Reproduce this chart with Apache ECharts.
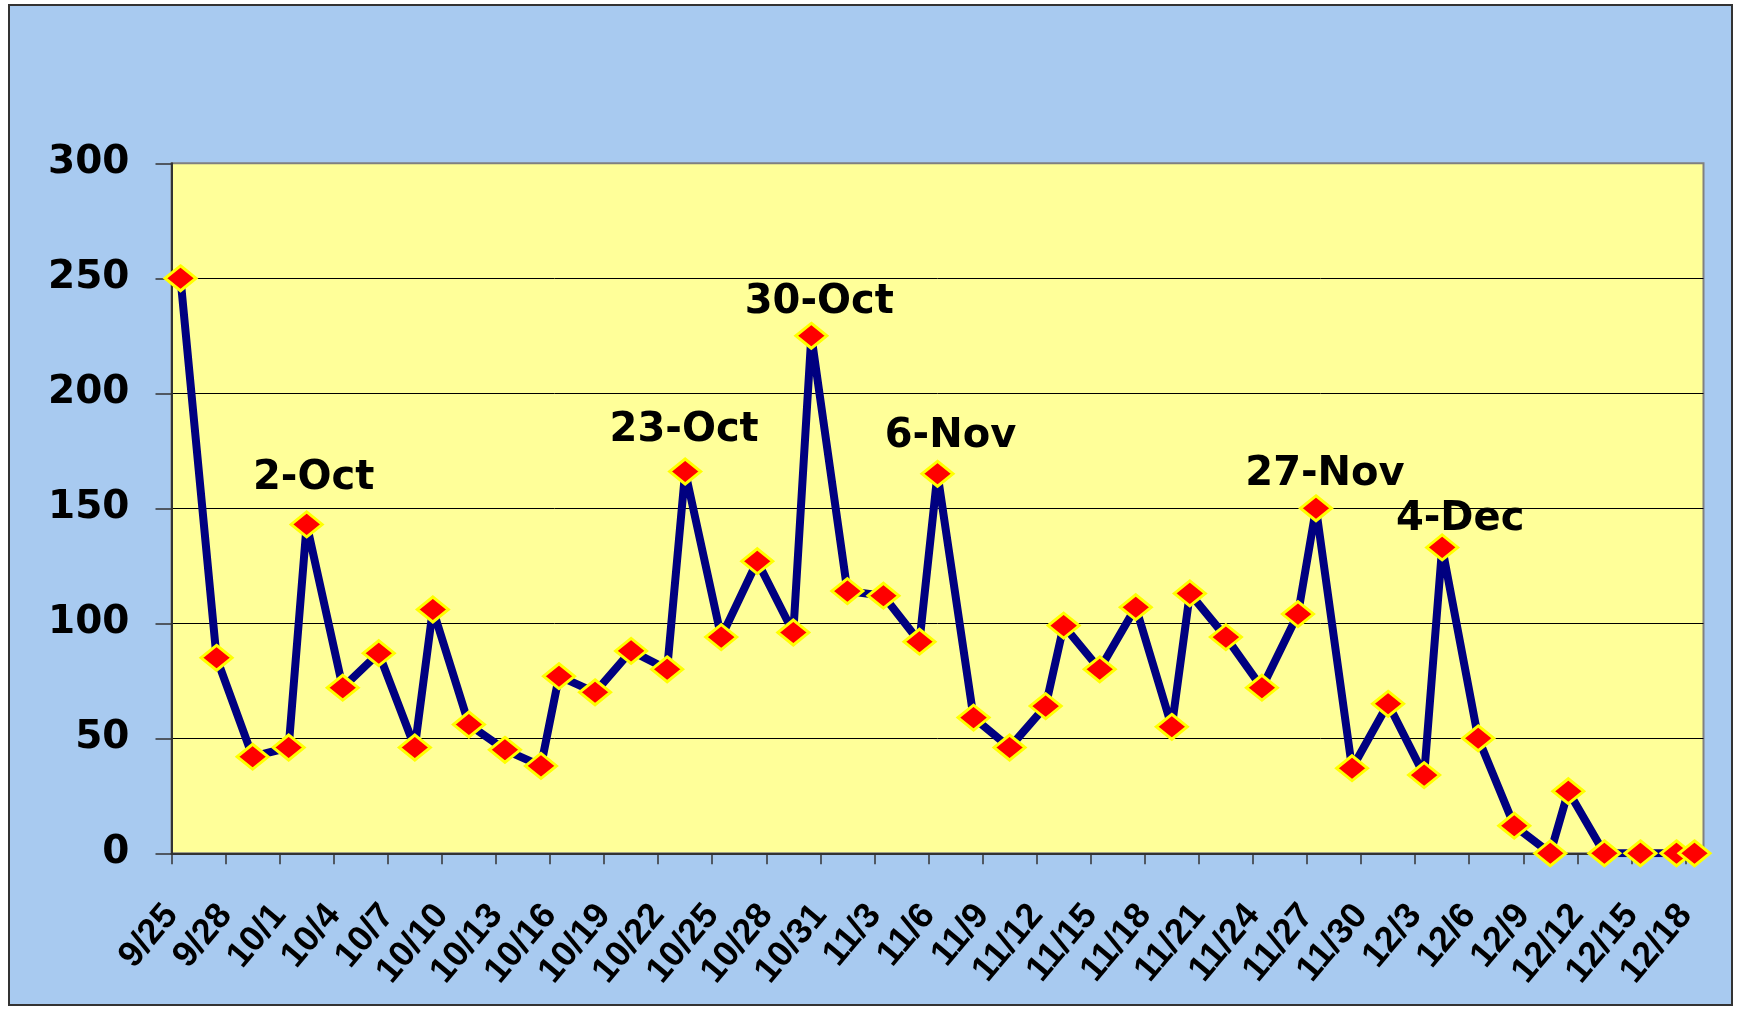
<!DOCTYPE html>
<html>
<head>
<meta charset="utf-8">
<script src="https://cdn.jsdelivr.net/npm/echarts@6/dist/echarts.min.js"></script>
<style>
  html, body { margin: 0; padding: 0; background: #fff; }
  #frame { position: absolute; left: 8px; top: 4px; border: 2px solid #333; background: #A8CAF0; }
  #chart { width: 1721px; height: 998px; }
</style>
</head>
<body>
<div id="frame"><div id="chart"></div></div>
<script>
// dates of the points (M/D) and the counts
var dates = ['9/25', '9/27', '9/29', '10/1', '10/2', '10/4', '10/6', '10/8', '10/9', '10/11',
  '10/13', '10/15', '10/16', '10/18', '10/20', '10/22', '10/23', '10/25', '10/27', '10/29',
  '10/30', '11/1', '11/3', '11/5', '11/6', '11/8', '11/10', '11/12', '11/13', '11/15',
  '11/17', '11/19', '11/20', '11/22', '11/24', '11/26', '11/27', '11/29', '12/1', '12/3',
  '12/4', '12/6', '12/8', '12/10', '12/11', '12/13', '12/15', '12/17', '12/18'];
var values = [250, 85, 42, 46, 143, 72, 87, 46, 106, 56,
  45, 38, 77, 70, 88, 80, 166, 94, 127, 96,
  225, 114, 112, 92, 165, 59, 46, 64, 99, 80,
  107, 55, 113, 94, 72, 104, 150, 37, 65, 34,
  133, 50, 12, 0, 27, 0, 0, 0, 0];
var tickLabels = ['9/25', '9/28', '10/1', '10/4', '10/7', '10/10', '10/13', '10/16', '10/19', '10/22',
  '10/25', '10/28', '10/31', '11/3', '11/6', '11/9', '11/12', '11/15', '11/18', '11/21',
  '11/24', '11/27', '11/30', '12/3', '12/6', '12/9', '12/12', '12/15', '12/18'];
var yTicks = [0, 50, 100, 150, 200, 250, 300];
// the peaks that carry a text label
var peakDates = ['10/2', '10/23', '10/30', '11/6', '11/27', '12/4'];
var peakTexts = ['2-Oct', '23-Oct', '30-Oct', '6-Nov', '27-Nov', '4-Dec'];
// where each label sits against its point (px)
var peakOffsets = [[7, -46], [-1, -41], [8, -33], [13, -37], [9, -34], [18, -28]];

var FONT = '"DejaVu Sans", "Liberation Sans", Arial, sans-serif';
var dayMs = 86400000;
var start = Date.UTC(2000, 8, 25);
function dayIndex(md) {
  var p = md.split('/');
  return Math.round((Date.UTC(2000, +p[0] - 1, +p[1]) - start) / dayMs);
}
// points sit in the middle of their day slot, ticks on the day boundaries
var seriesData = dates.map(function (d, i) {
  var item = { value: [dayIndex(d) + 0.5, values[i]] };
  var k = peakDates.indexOf(d);
  if (k >= 0) {
    item.label = {
      show: true, position: 'inside', formatter: peakTexts[k],
      offset: peakOffsets[k], color: '#000', fontSize: 40, fontWeight: 'bold', fontFamily: FONT
    };
  }
  return item;
});
var tickValues = tickLabels.map(function (t) { return dayIndex(t); });

var myChart = echarts.init(document.getElementById('chart'), null, { renderer: 'canvas' });
myChart.setOption({
  animation: false,
  backgroundColor: 'transparent',
  grid: {
    left: 161.5, top: 157.3, width: 1532, height: 690,
    show: true, backgroundColor: '#FFFF99', borderColor: '#808080', borderWidth: 2
  },
  xAxis: {
    type: 'value', min: 0, max: 85,
    axisLine: { show: true, onZero: false, lineStyle: { color: '#333', width: 2 } },
    axisTick: { show: true, length: 11, customValues: tickValues, lineStyle: { color: '#333', width: 1.5 } },
    axisLabel: {
      customValues: tickValues, rotate: 50, margin: 56,
      fontSize: 36, fontWeight: 'bold', fontFamily: '"Liberation Sans", Arial, sans-serif', color: '#000',
      formatter: function (v) { return tickLabels[tickValues.indexOf(v)] || ''; }
    },
    splitLine: { show: false }
  },
  yAxis: {
    type: 'value', min: yTicks[0], max: yTicks[yTicks.length - 1], interval: 50,
    axisLine: { show: true, lineStyle: { color: '#333', width: 2 } },
    axisTick: { show: true, length: 16, lineStyle: { color: '#333', width: 1.5 } },
    axisLabel: { margin: 42, fontSize: 39, fontWeight: 'bold', fontFamily: FONT, color: '#000' },
    splitLine: { show: true, showMaxLine: false, lineStyle: { color: '#000', width: 1 } }
  },
  series: [{
    type: 'line',
    data: seriesData,
    lineStyle: { color: '#000080', width: 8 },
    symbol: 'diamond',
    symbolSize: [31, 25],
    itemStyle: { color: '#FF0000', borderColor: '#FFFF00', borderWidth: 3 },
    emphasis: { disabled: true },
    z: 3
  }]
});
</script>
</body>
</html>
